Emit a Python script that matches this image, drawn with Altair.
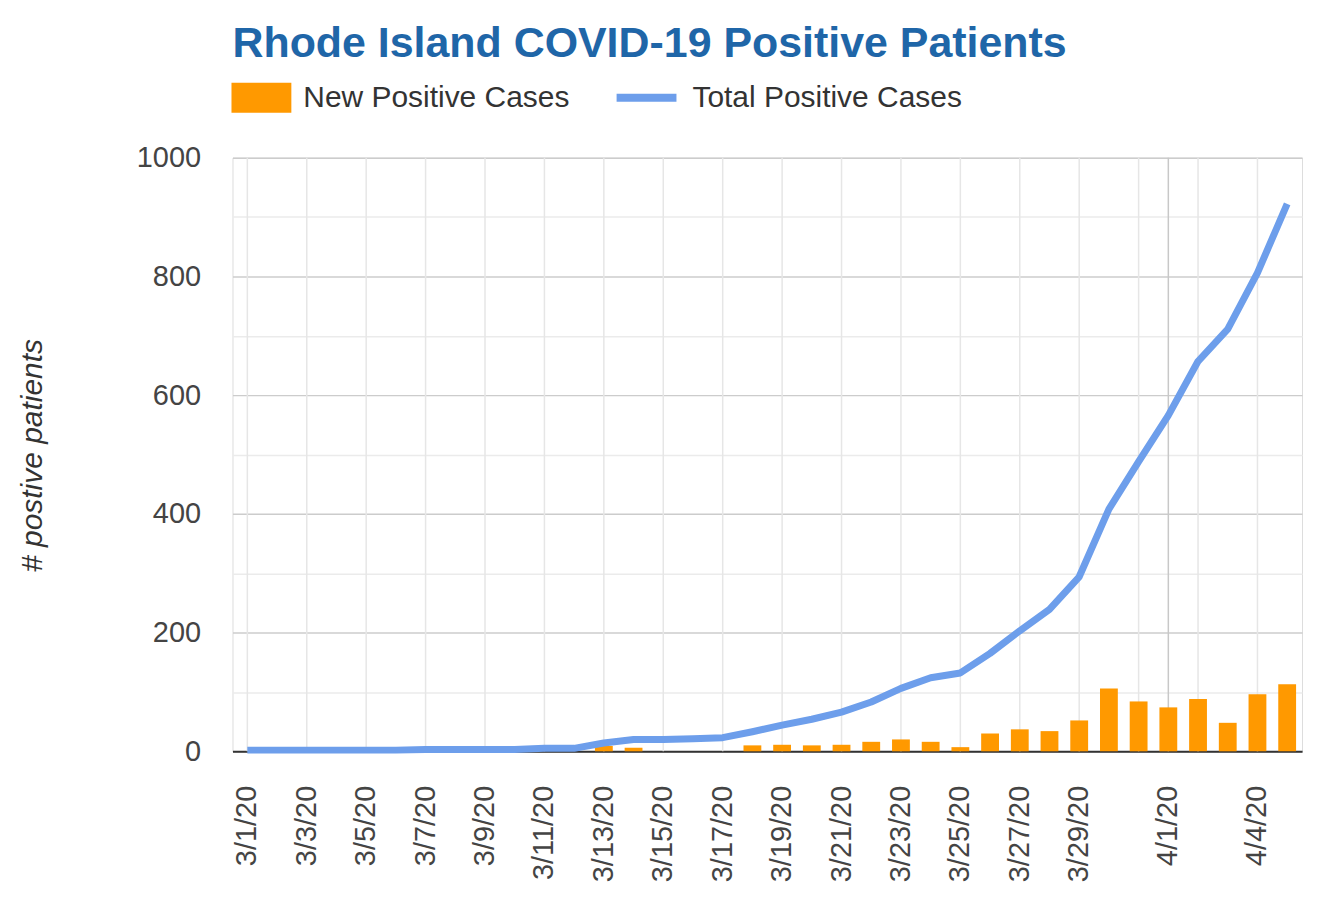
import altair as alt
import pandas as pd

dates = ["3/1/20", "3/2/20", "3/3/20", "3/4/20", "3/5/20", "3/6/20", "3/7/20", "3/8/20",
         "3/9/20", "3/10/20", "3/11/20", "3/12/20", "3/13/20", "3/14/20", "3/15/20", "3/16/20",
         "3/17/20", "3/18/20", "3/19/20", "3/20/20", "3/21/20", "3/22/20", "3/23/20", "3/24/20",
         "3/25/20", "3/26/20", "3/27/20", "3/28/20", "3/29/20", "3/30/20", "3/31/20", "4/1/20",
         "4/2/20", "4/3/20", "4/4/20", "4/5/20"]
new_cases = [0, 0, 0, 0, 0, 0, 0, 0, 0, 0, 0, 0, 9, 6, 0, 0,
             0, 10, 11, 10, 11, 16, 20, 16, 7, 30, 37, 34, 52, 106, 84, 74,
             88, 48, 96, 113]
total_cases = [2, 2, 2, 2, 2, 2, 3, 3, 3, 3, 5, 5, 14, 20, 20, 21,
               23, 33, 44, 54, 66, 83, 106, 124, 132, 165, 203, 239, 294, 408, 488, 566,
               657, 711, 806, 922]
x_labels = ["3/1/20", "3/3/20", "3/5/20", "3/7/20", "3/9/20", "3/11/20", "3/13/20", "3/15/20",
            "3/17/20", "3/19/20", "3/21/20", "3/23/20", "3/25/20", "3/27/20", "3/29/20",
            "4/1/20", "4/4/20"]
minor_grid_dates = ["3/1/20", "3/3/20", "3/5/20", "3/7/20", "3/9/20", "3/11/20", "3/13/20",
                    "3/15/20", "3/17/20", "3/19/20", "3/21/20", "3/23/20", "3/25/20",
                    "3/27/20", "3/29/20", "3/31/20", "4/2/20", "4/4/20"]
major_grid_dates = ["4/1/20"]
y_ticks = [0, 100, 200, 300, 400, 500, 600, 700, 800, 900, 1000]

FONT = "Liberation Sans"
ORANGE = "#ff9900"
BLUE = "#6d9eeb"

df = pd.DataFrame({"date": dates, "new": new_cases, "total": total_cases})
df_minor = pd.DataFrame({"date": minor_grid_dates})
df_major = pd.DataFrame({"date": major_grid_dates})

xscale = alt.Scale(domain=dates, paddingInner=0.4, paddingOuter=0.2)
x_axis = alt.Axis(values=x_labels, labelAngle=270, labelFontSize=29, labelFont=FONT,
                  labelColor="#444444", labelPadding=34, ticks=False, grid=False,
                  domainColor="#333333", domainWidth=2, title=None, labelLimit=0)

x_enc = alt.X("date:O", scale=xscale, axis=x_axis, sort=None)

minor = alt.Chart(df_minor).mark_rule(color="#e6e6e6", strokeWidth=1.5).encode(
    x=alt.X("date:O", scale=xscale, axis=x_axis, sort=None)
)
major = alt.Chart(df_major).mark_rule(color="#c8c8c8", strokeWidth=1.5).encode(
    x=alt.X("date:O", scale=xscale, axis=x_axis, sort=None)
)

y_axis = alt.Axis(
    values=y_ticks,
    format="d",
    labelExpr="datum.value % 200 === 0 ? datum.label : ''",
    grid=True,
    gridColor={"condition": {"test": "datum.value % 200 === 0", "value": "#cccccc"},
               "value": "#ebebeb"},
    gridWidth=1.5,
    domain=False, ticks=False,
    labelFontSize=29, labelFont=FONT, labelColor="#444444", labelPadding=32,
    title="# postive patients", titleFont=FONT, titleFontSize=30, titleFontStyle="italic",
    titleFontWeight="normal", titleColor="#333333", titleAngle=270, titleX=-200, titleY=298,
    titleAlign="center", titleBaseline="middle",
)
yscale = alt.Scale(domain=[0, 1000], nice=False)

bars = alt.Chart(df).transform_calculate(series="'New Positive Cases'").mark_bar().encode(
    x=x_enc,
    y=alt.Y("new:Q", scale=yscale, axis=y_axis),
    fill=alt.Fill("series:N", scale=alt.Scale(domain=["New Positive Cases"], range=[ORANGE]),
                  legend=alt.Legend(orient="none", legendX=-1, legendY=-90, title=None,
                                    symbolType="M-1,-0.5H1V0.5H-1Z", symbolSize=3600,
                                    symbolStrokeWidth=0, labelFontSize=30, labelFont=FONT,
                                    labelColor="#333333", labelOffset=12, padding=0,
                                    labelLimit=0)),
)

line = alt.Chart(df).transform_calculate(series2="'Total Positive Cases'").mark_line(
    strokeWidth=7, strokeJoin="round"
).encode(
    x=x_enc,
    y=alt.Y("total:Q", scale=yscale, axis=y_axis),
    stroke=alt.Stroke("series2:N", scale=alt.Scale(domain=["Total Positive Cases"], range=[BLUE]),
                      legend=alt.Legend(orient="none", legendX=381, legendY=-94, title=None,
                                        symbolType="stroke", symbolSize=3600,
                                        symbolStrokeWidth=8, labelFontSize=30, labelFont=FONT,
                                        labelColor="#333333", labelOffset=12, padding=0,
                                        labelLimit=0)),
)

chart = alt.layer(minor, major, bars, line).properties(
    width=1072, height=595,
    title=alt.TitleParams("Rhode Island COVID-19 Positive Patients", anchor="start",
                          font=FONT, fontSize=43, fontWeight="bold", color="#1f66a8",
                          offset=2, dy=4, frame="group"),
    autosize=alt.AutoSizeParams(type="none"),
    padding={"left": 225, "top": 149, "right": 10, "bottom": 140},
).configure_view(stroke=None).configure(background="white")

chart.save("out.html", embed_options={"renderer": "svg", "actions": False})
